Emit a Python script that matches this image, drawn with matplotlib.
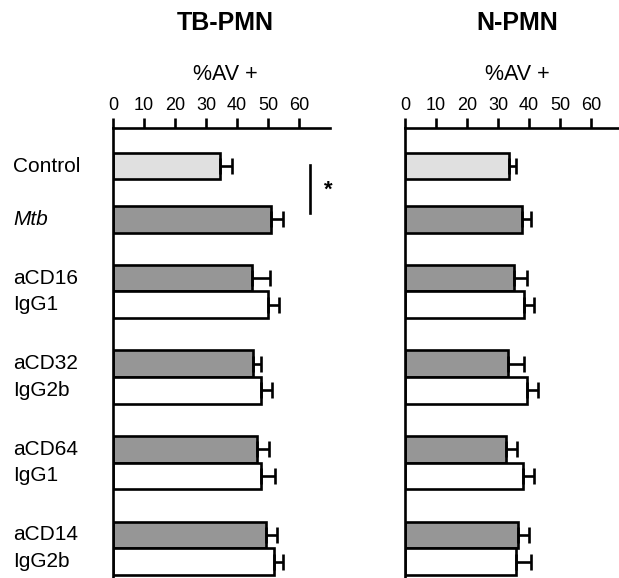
import matplotlib
matplotlib.use("Agg")
import matplotlib.pyplot as plt
import numpy as np

plt.rcParams['font.family'] = ['Liberation Sans', 'DejaVu Sans']

labels = ["Control", "Mtb", "aCD16", "IgG1", "aCD32", "IgG2b",
          "aCD64", "IgG1", "aCD14", "IgG2b"]
kinds = ["control", "mtb", "ab", "iso", "ab", "iso", "ab", "iso", "ab", "iso"]

tb_vals = [34.5, 51.0, 44.9, 49.9, 45.3, 47.8, 46.5, 47.8, 49.2, 51.9]
tb_err = [3.8, 3.7, 5.9, 3.6, 2.4, 3.6, 3.9, 4.3, 3.7, 2.8]

n_vals = [33.6, 37.8, 35.2, 38.4, 33.1, 39.2, 32.6, 38.2, 36.3, 35.8]
n_err = [2.2, 2.7, 4.0, 3.2, 5.3, 3.7, 3.4, 3.4, 3.6, 4.9]

xticks = [0, 10, 20, 30, 40, 50, 60]

colors = {"control": "#e0e0e0", "mtb": "#969696", "ab": "#969696", "iso": "white"}

# bar centres, in bar-height units from the top spine
pos = [1.43, 3.43]
for g in range(4):
    pos += [5.64 + g * 3.22, 6.64 + g * 3.22]
pos = np.array(pos)

W, H = 619, 578
LW = 1.9
fig = plt.figure(figsize=(W / 100, H / 100), dpi=100)


def panel(x0, x1, xmax, vals, errs, title):
    ax = fig.add_axes([x0 / W, 0, (x1 - x0) / W, (H - 128) / H])
    ax.barh(pos, vals, height=1.0, color=[colors[k] for k in kinds],
            edgecolor="black", linewidth=LW)
    ax.errorbar(vals, pos, xerr=[np.zeros(len(errs)), errs], fmt="none",
                ecolor="black", elinewidth=LW, capsize=5.5, capthick=LW)
    ax.set_xlim(0, xmax)
    ax.set_ylim(16.92, 0)
    ax.xaxis.tick_top()
    ax.set_xticks(xticks)
    ax.tick_params(axis="x", direction="out", length=7, width=LW,
                   labelsize=13, pad=3)
    ax.set_yticks([])
    for s in ["right", "bottom"]:
        ax.spines[s].set_visible(False)
    for s in ["left", "top"]:
        ax.spines[s].set_linewidth(LW)
    fig.text((x0 + 112) / W, 1 - 75 / H, "%AV +", ha="center",
             va="center", fontsize=15.5)
    fig.text((x0 + 112) / W, 1 - 23 / H, title, ha="center",
             va="center", fontsize=18, fontweight="bold")
    return ax


ax1 = panel(113, 330, 70, tb_vals, tb_err, "TB-PMN")
ax2 = panel(405, 622, 70, n_vals, n_err, "N-PMN")

# category labels
for lab, p in zip(labels, pos):
    y = ax1.transData.transform((0, p))[1]
    fig.text(13 / W, y / H, lab, ha="left", va="center", fontsize=15,
             style="italic" if lab == "Mtb" else "normal")

# significance bracket between Control and Mtb
ax1.plot([63.5, 63.5], [1.4, 3.2], color="black", lw=LW, clip_on=False)
ax1.text(69.5, 2.35, "*", ha="center", va="center", fontsize=16,
         fontweight="bold")

fig.savefig("out.png", dpi=100)
